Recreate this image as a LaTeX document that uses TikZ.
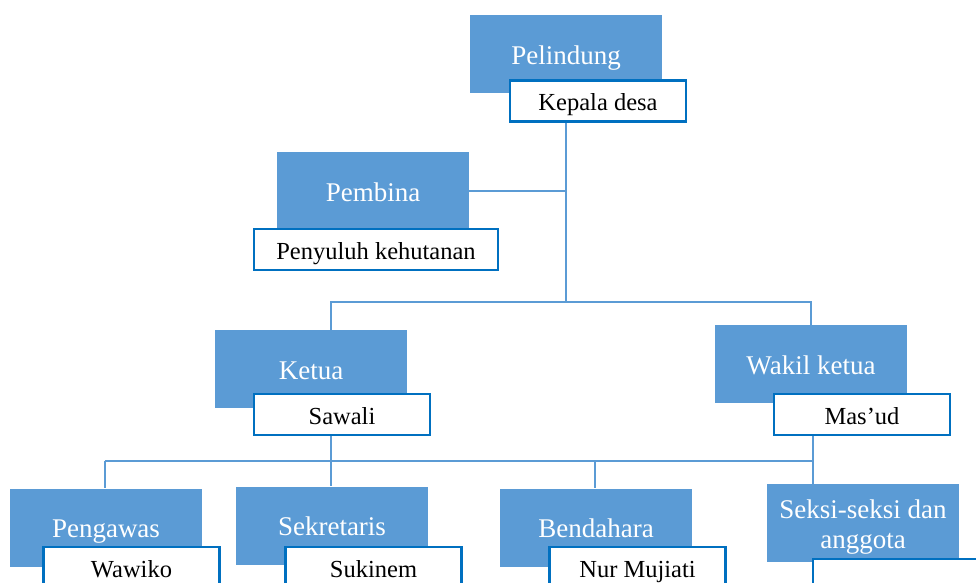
\documentclass[tikz,border=0pt]{standalone}
\usepackage{fontspec}
\setmainfont{Liberation Serif}
\definecolor{boxblue}{HTML}{5B9BD5}
\definecolor{edgeblue}{HTML}{0070C0}
\begin{document}
\begin{tikzpicture}[x=1pt,y=-1pt,
 role/.style={fill=boxblue, draw=none, minimum width=192pt, minimum height=78pt, text=white,
   font=\fontsize{27}{30}\selectfont, align=center, inner sep=0pt, text height=24pt, text depth=4pt},
 person/.style={fill=white, draw=edgeblue, line width=2.2pt, minimum width=176pt, minimum height=41pt,
   font=\fontsize{24.5}{27}\selectfont, inner sep=0pt, text height=22pt, text depth=3pt},
 link/.style={draw=boxblue, line width=1.5pt}]
\useasboundingbox (0,0) rectangle (976,582);
\clip (0,0) rectangle (976,582);
% junction coordinates
\coordinate (jA) at (566,302);
\coordinate (barL) at (331,302);
\coordinate (barR) at (811,302);
\coordinate (barL2) at (105,461);
\coordinate (jB) at (331,461);
\coordinate (jC) at (595,461);
\coordinate (barR2) at (813,461);
% role boxes
\node[role] (pel) at (566,54) {Pelindung};
\node[role] (pemb) at (373,191) {Pembina};
\node[role] (ket) at (311,369) {Ketua};
\node[role] (wak) at (811,364) {Wakil ketua};
\node[role] (peng) at (106,527.5) {Pengawas};
\node[role] (sek) at (332,525.5) {Sekretaris};
\node[role] (ben) at (596,527.5) {Bendahara};
\node[role, text height=, text depth=] (seksi) at (863,523) {\rule{0pt}{26pt}Seksi-seksi dan\\anggota};
% person boxes
\node[person] (kep) at (598,101) {Kepala desa};
\node[person, minimum width=244pt] (peny) at (376,249.5) {Penyuluh kehutanan};
\node[person] (saw) at (342,414.5) {Sawali};
\node[person] (mas) at (862,414.5) {Mas’ud};
\node[person] (waw) at (131.5,567.5) {Wawiko};
\node[person] (suk) at (373.5,567.5) {Sukinem};
\node[person] (nur) at (637.5,567.5) {Nur Mujiati};
\node[person] (ang) at (901,579.5) {};
% connectors
\draw[link] (kep.south -| jA) -- (jA);
\draw[link] (pemb.east) -- (pemb.east -| jA);
\draw[link] (ket.north -| barL) -- (barL) -- (barR) -- (wak.north -| barR);
\draw[link] (saw.south -| jB) -- (jB);
\draw[link] (mas.south -| barR2) -- (barR2);
\draw[link] (barL2) -- (barR2);
\draw[link] (barL2) -- (peng.north -| barL2);
\draw[link] (jB) -- (sek.north -| jB);
\draw[link] (jC) -- (ben.north -| jC);
\draw[link] (barR2) -- (seksi.north -| barR2);
\end{tikzpicture}
\end{document}
